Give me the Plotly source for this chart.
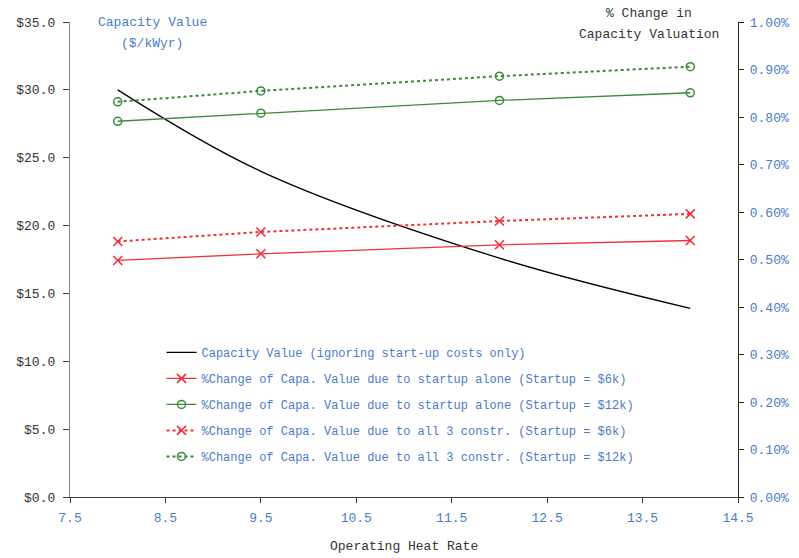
import plotly.graph_objects as go

heat_rate = [8, 9.5, 12, 14]
capacity_value = [30.0, 24.0, 17.6, 13.9]
pct_start_6k = [0.00498, 0.00512, 0.00531, 0.00540]
pct_start_12k = [0.00791, 0.00808, 0.00835, 0.00851]
pct_all3_6k = [0.00538, 0.00558, 0.00581, 0.00596]
pct_all3_12k = [0.00832, 0.00855, 0.00886, 0.00906]

names = [
    "Capacity Value (ignoring start-up costs only)",
    "%Change of Capa. Value due to startup alone (Startup = $6k)",
    "%Change of Capa. Value due to startup alone (Startup = $12k)",
    "%Change of Capa. Value due to all 3 constr. (Startup = $6k)",
    "%Change of Capa. Value due to all 3 constr. (Startup = $12k)",
]

FONT = "Liberation Mono, Courier New, monospace"
BLUE = "#4a7cc9"
DARK = "#333333"
RED = "#f0303c"
GREEN = "#3a8a3a"

fig = go.Figure()
fig.add_trace(go.Scatter(x=heat_rate, y=capacity_value, name=names[0], mode="lines",
                         line=dict(color="black", width=1.3, shape="spline"),
                         legendgroup="a", yaxis="y"))
fig.add_trace(go.Scatter(x=heat_rate, y=pct_start_6k, name=names[1], mode="lines+markers",
                         line=dict(color=RED, width=1.3),
                         marker=dict(symbol="x-thin-open", size=9, line=dict(color=RED, width=1.6)),
                         legendgroup="b", yaxis="y2"))
fig.add_trace(go.Scatter(x=heat_rate, y=pct_start_12k, name=names[2], mode="lines+markers",
                         line=dict(color=GREEN, width=1.3),
                         marker=dict(symbol="circle-open", size=8, color=GREEN, line=dict(color=GREEN, width=1.5)),
                         legendgroup="c", yaxis="y2"))
fig.add_trace(go.Scatter(x=heat_rate, y=pct_all3_6k, name=names[3], mode="lines+markers",
                         line=dict(color=RED, width=2, dash="dot"),
                         marker=dict(symbol="x-thin-open", size=9, line=dict(color=RED, width=1.6)),
                         legendgroup="d", yaxis="y2"))
fig.add_trace(go.Scatter(x=heat_rate, y=pct_all3_12k, name=names[4], mode="lines+markers",
                         line=dict(color=GREEN, width=2, dash="dot"),
                         marker=dict(symbol="circle-open", size=8, color=GREEN, line=dict(color=GREEN, width=1.5)),
                         legendgroup="e", yaxis="y2"))

def note(text, x, y, color):
    return dict(text=text, xref="paper", yref="paper", x=x, y=y,
                xanchor="center", yanchor="middle", showarrow=False,
                font=dict(family=FONT, size=13, color=color))

# plot area: x 70..738 (668 px), y 22..497 (475 px)
def px(xp):
    return (xp - 70) / 668

def py(yp):
    return (497 - yp) / 475

fig.update_layout(
    width=799, height=558,
    margin=dict(l=70, r=61, t=22, b=61, autoexpand=False),
    paper_bgcolor="white", plot_bgcolor="white",
    font=dict(family=FONT, size=13, color=DARK),
    showlegend=True,
    legend=dict(x=0.137, y=0.335, xanchor="left", yanchor="top",
                font=dict(family=FONT, size=12, color=BLUE),
                bgcolor="rgba(0,0,0,0)", traceorder="grouped", tracegroupgap=7),
    xaxis=dict(range=[7.5, 14.5], tick0=7.5, dtick=1, showgrid=False, zeroline=False,
               showline=True, linecolor="#404040", linewidth=1.3, automargin=False,
               ticks="outside", ticklen=5, tickcolor="#404040", ticklabelstandoff=3,
               tickfont=dict(family=FONT, size=13, color=BLUE)),
    yaxis=dict(range=[0, 35], dtick=5, showgrid=False, zeroline=False, automargin=False,
               showline=True, linecolor="#888888", linewidth=1.3,
               ticks="outside", ticklen=6, tickcolor="#404040", ticklabelstandoff=5,
               tickprefix="$", tickformat=".1f",
               tickfont=dict(family=FONT, size=13, color=DARK)),
    yaxis2=dict(range=[0, 0.01], dtick=0.001, overlaying="y", side="right", showgrid=False,
                zeroline=False, showline=True, linecolor="#222222", linewidth=1.3,
                automargin=False,
                ticks="outside", ticklen=5, tickcolor="#222222", tickformat=".2%",
                ticklabelstandoff=3,
                tickfont=dict(family=FONT, size=13, color=BLUE)),
    annotations=[
        note("Capacity Value", px(152), py(22), BLUE),
        note("($/kWyr)", px(152), py(43), BLUE),
        note("% Change in", px(649), py(13), DARK),
        note("Capacity Valuation", px(649), py(34), DARK),
        note("Operating Heat Rate", px(404), py(546), DARK),
    ],
)

fig.write_html("out.html")
